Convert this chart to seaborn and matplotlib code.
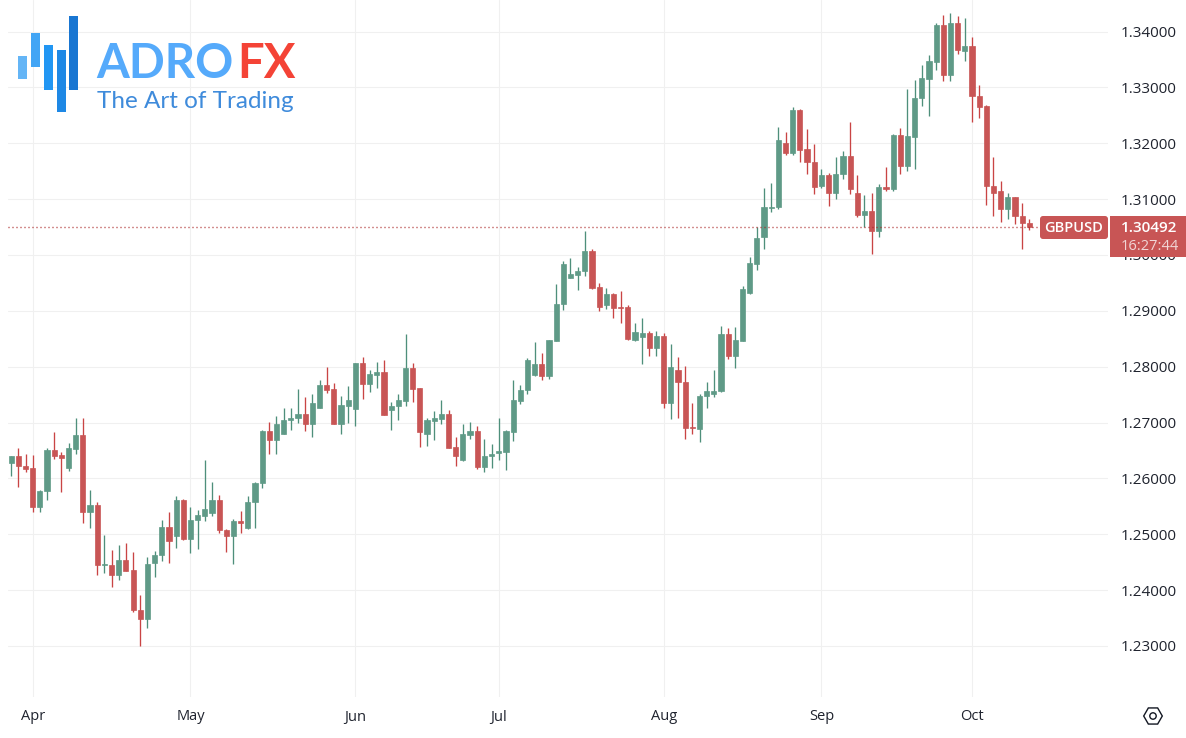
import matplotlib
matplotlib.use("Agg")
import matplotlib.pyplot as plt
import matplotlib.patches as mpatches
import matplotlib.transforms as mtransforms
import numpy as np
import pandas as pd
import seaborn as sns

# GBPUSD daily candles
start_date = "2024-03-27"
end_date = "2024-10-11"

open_prices = [
    1.26267, 1.26404, 1.26231, 1.26183, 1.25497, 1.25766, 1.26511, 1.26422, 1.26189, 1.26529,
    1.26779, 1.25390, 1.25527, 1.24448, 1.24448, 1.24263, 1.24537, 1.24358, 1.23643, 1.23476,
    1.24478, 1.24627, 1.25128, 1.24961, 1.25617, 1.24907, 1.25247, 1.25336, 1.25384, 1.25611,
    1.25074, 1.24961, 1.25229, 1.25104, 1.25575, 1.25915, 1.26849, 1.26688, 1.26801, 1.27044,
    1.27080, 1.27157, 1.26973, 1.27264, 1.27668, 1.27596, 1.26979, 1.27300, 1.27246, 1.28059,
    1.27685, 1.27846, 1.27899, 1.27223, 1.27294, 1.27389, 1.27970, 1.27614, 1.26795, 1.27027,
    1.27062, 1.27157, 1.26564, 1.26326, 1.26777, 1.26849, 1.26208, 1.26409, 1.26457, 1.26475,
    1.26837, 1.27381, 1.27578, 1.27845, 1.28042, 1.27839, 1.28464, 1.29119, 1.29595, 1.29649,
    1.29720, 1.30077, 1.29435, 1.29113, 1.29310, 1.29071, 1.29060, 1.28482, 1.28524, 1.28595,
    1.28327, 1.28542, 1.27351, 1.27935, 1.27732, 1.26917, 1.26881, 1.27470, 1.27518, 1.27560,
    1.28577, 1.28185, 1.28458, 1.29327, 1.29845, 1.30320, 1.30843, 1.30855, 1.32012, 1.31834,
    1.32599, 1.31899, 1.31656, 1.31228, 1.31424, 1.31116, 1.31442, 1.31763, 1.31110, 1.30718,
    1.30783, 1.30427, 1.31223, 1.31181, 1.32154, 1.31588, 1.32113, 1.32812, 1.33158, 1.33457,
    1.34125, 1.33224, 1.34149, 1.33654, 1.33737, 1.32854, 1.32663, 1.31230, 1.31146, 1.30818,
    1.31033, 1.30705, 1.30567,
]
high_prices = [
    1.26404, 1.26541, 1.26439, 1.26422, 1.25784, 1.26541, 1.26839, 1.26469, 1.26630, 1.27089,
    1.27078, 1.25784, 1.25575, 1.24984, 1.24722, 1.24812, 1.24835, 1.24680, 1.23911, 1.24585,
    1.24692, 1.25253, 1.25402, 1.25682, 1.25640, 1.25491, 1.25432, 1.26326, 1.25933, 1.25700,
    1.25092, 1.25271, 1.25414, 1.25682, 1.25927, 1.26863, 1.27009, 1.27110, 1.27252, 1.27264,
    1.27596, 1.27454, 1.27507, 1.27769, 1.27994, 1.27703, 1.27472, 1.27662, 1.28071, 1.28172,
    1.27947, 1.28077, 1.28125, 1.27359, 1.27513, 1.28588, 1.28065, 1.27626, 1.27086, 1.27205,
    1.27401, 1.27223, 1.26742, 1.26979, 1.27015, 1.26932, 1.26706, 1.26611, 1.27086, 1.26866,
    1.27769, 1.27667, 1.28161, 1.28447, 1.28244, 1.28475, 1.29488, 1.29893, 1.29946, 1.29786,
    1.30434, 1.30107, 1.29506, 1.29417, 1.29327, 1.29363, 1.29113, 1.28774, 1.28863, 1.28643,
    1.28631, 1.28607, 1.28399, 1.28167, 1.28018, 1.27345, 1.27518, 1.27732, 1.27935, 1.28720,
    1.28685, 1.28714, 1.29452, 1.29970, 1.30506, 1.31193, 1.31294, 1.32297, 1.32208, 1.32653,
    1.32610, 1.32261, 1.31988, 1.31543, 1.31472, 1.31745, 1.31852, 1.32380, 1.31424, 1.31074,
    1.31110, 1.31264, 1.31579, 1.32172, 1.32279, 1.32967, 1.33140, 1.33397, 1.33588, 1.34155,
    1.34293, 1.34340, 1.34275, 1.34233, 1.33899, 1.33039, 1.32693, 1.31749, 1.31331, 1.31116,
    1.31039, 1.30931, 1.30651,
]
low_prices = [
    1.26046, 1.25855, 1.26106, 1.25390, 1.25390, 1.25617, 1.26350, 1.25748, 1.26141, 1.26434,
    1.25199, 1.25104, 1.24263, 1.24299, 1.24048, 1.24174, 1.24335, 1.23607, 1.22993, 1.23321,
    1.24227, 1.24513, 1.24478, 1.24746, 1.24900, 1.24663, 1.24728, 1.25229, 1.25336, 1.25014,
    1.24674, 1.24460, 1.25014, 1.25100, 1.25104, 1.25837, 1.26433, 1.26439, 1.26795, 1.26866,
    1.26997, 1.26849, 1.26742, 1.27260, 1.27531, 1.26975, 1.26801, 1.26991, 1.26938, 1.27418,
    1.27549, 1.27614, 1.27130, 1.26866, 1.27044, 1.27300, 1.27371, 1.26564, 1.26582, 1.26688,
    1.26979, 1.26540, 1.26214, 1.26303, 1.26706, 1.26160, 1.26119, 1.26190, 1.26338, 1.26154,
    1.26677, 1.27339, 1.27518, 1.27840, 1.27768, 1.27780, 1.28460, 1.29012, 1.29590, 1.29369,
    1.29625, 1.29399, 1.28994, 1.29036, 1.28863, 1.28780, 1.28484, 1.28452, 1.28054, 1.28185,
    1.28185, 1.27262, 1.27060, 1.27078, 1.26714, 1.26798, 1.26643, 1.27256, 1.27453, 1.27554,
    1.28131, 1.27970, 1.28455, 1.29298, 1.29726, 1.30107, 1.30771, 1.30831, 1.31798, 1.31798,
    1.31656, 1.31442, 1.31092, 1.31199, 1.30872, 1.31003, 1.31365, 1.31092, 1.30676, 1.30493,
    1.30018, 1.30314, 1.31145, 1.31139, 1.31448, 1.31511, 1.31534, 1.32675, 1.32490, 1.33313,
    1.33116, 1.33116, 1.33600, 1.33469, 1.32382, 1.32460, 1.30896, 1.30699, 1.30591, 1.30645,
    1.30549, 1.30108, 1.30454,
]
close_prices = [
    1.26404, 1.26219, 1.26171, 1.25497, 1.25778, 1.26511, 1.26410, 1.26362, 1.26541, 1.26779,
    1.25390, 1.25527, 1.24442, 1.24472, 1.24263, 1.24537, 1.24346, 1.23643, 1.23476, 1.24472,
    1.24627, 1.25128, 1.24871, 1.25617, 1.24907, 1.25253, 1.25342, 1.25450, 1.25611, 1.25068,
    1.24961, 1.25235, 1.25205, 1.25575, 1.25915, 1.26845, 1.26688, 1.26973, 1.27044, 1.27086,
    1.27157, 1.26973, 1.27341, 1.27668, 1.27590, 1.26979, 1.27312, 1.27401, 1.28065, 1.27685,
    1.27863, 1.27899, 1.27133, 1.27300, 1.27401, 1.27970, 1.27596, 1.26831, 1.27044, 1.27080,
    1.27157, 1.26546, 1.26398, 1.26789, 1.26849, 1.26208, 1.26398, 1.26433, 1.26493, 1.26849,
    1.27401, 1.27589, 1.28113, 1.28042, 1.27839, 1.28470, 1.29131, 1.29845, 1.29655, 1.29720,
    1.30077, 1.29411, 1.29077, 1.29310, 1.29042, 1.29048, 1.28488, 1.28613, 1.28595, 1.28327,
    1.28542, 1.27345, 1.27988, 1.27720, 1.26899, 1.26899, 1.27476, 1.27560, 1.27560, 1.28577,
    1.28185, 1.28470, 1.29399, 1.29863, 1.30310, 1.30855, 1.30866, 1.32059, 1.31828, 1.32599,
    1.31887, 1.31656, 1.31211, 1.31424, 1.31116, 1.31442, 1.31763, 1.31187, 1.30712, 1.30783,
    1.30427, 1.31223, 1.31181, 1.32154, 1.31585, 1.32125, 1.32818, 1.33176, 1.33469, 1.34125,
    1.33224, 1.34149, 1.33672, 1.33737, 1.32848, 1.32651, 1.31230, 1.31116, 1.30818, 1.31033,
    1.30699, 1.30573, 1.30492,
]
price_ticks = [1.23, 1.24, 1.25, 1.26, 1.27, 1.28, 1.29, 1.30, 1.31, 1.32, 1.33, 1.34]
month_starts = ["2024-04-01", "2024-05-01", "2024-06-03", "2024-07-01",
                "2024-08-01", "2024-09-02", "2024-10-01"]
month_labels = ["Apr", "May", "Jun", "Jul", "Aug", "Sep", "Oct"]

GREEN = "#5F9A87"
GREEN_WICK = "#4E8F7B"
RED = "#C85555"
RED_WICK = "#C94444"
TEXT = "#1F232E"

dates = pd.bdate_range(start_date, end_date)
candles = pd.DataFrame({
    "day": np.arange(len(dates)),
    "open": open_prices,
    "high": high_prices,
    "low": low_prices,
    "close": close_prices,
})
candles["up"] = candles["close"] >= candles["open"]
candles["bottom"] = candles[["open", "close"]].min(axis=1)
candles["height"] = (candles["close"] - candles["open"]).abs()
up = candles[candles["up"]]
down = candles[~candles["up"]]

sns.set_theme(style="whitegrid", rc={"grid.color": "#F0F0F0", "grid.linewidth": 0.8})
plt.rcParams["font.family"] = ["Open Sans", "DejaVu Sans"]

fig = plt.figure(figsize=(11.86, 7.38), dpi=100)
ax = fig.add_axes([8 / 1186, 1 - 697 / 738, 1100 / 1186, 697 / 738])
ax.set_axisbelow(True)

# wicks first, the bodies sit on top
ax.vlines(up["day"], up["low"], up["high"], color=GREEN_WICK, linewidth=0.95, zorder=2)
ax.vlines(down["day"], down["low"], down["high"], color=RED_WICK, linewidth=0.95, zorder=2)

sns.barplot(data=up, x="day", y="height", bottom=up["bottom"].values, native_scale=True, orient="x",
            width=0.72, color=GREEN, saturation=1, errorbar=None, linewidth=0.5, edgecolor=GREEN,
            zorder=3, ax=ax)
sns.barplot(data=down, x="day", y="height", bottom=down["bottom"].values, native_scale=True, orient="x",
            width=0.72, color=RED, saturation=1, errorbar=None, linewidth=0.5, edgecolor=RED,
            zorder=3, ax=ax)

ax.axhline(close_prices[-1], color="#A82020", linewidth=1.0, linestyle=(0, (0.72, 2.16)), zorder=4)

ax.set_xlim(-0.445, 152.97)
ax.set_ylim(1.22087, 1.34564)
ax.set_xlabel("")
ax.set_ylabel("")

month_days = [dates.get_loc(pd.Timestamp(m)) for m in month_starts]
ax.set_xticks(month_days)
ax.set_xticklabels(month_labels, fontsize=10.5, color=TEXT)
ax.yaxis.tick_right()
ax.set_yticks(price_ticks)
ax.set_yticklabels(["%.5f" % p for p in price_ticks], fontsize=11, color=TEXT)
ax.tick_params(axis="x", length=0, pad=9)
ax.tick_params(axis="y", length=0, pad=9)
ax.grid(True, axis="both")
sns.despine(ax=ax, left=True, bottom=True, right=True, top=True)

# everything below is placed in picture pixels, y going down
px = mtransforms.Affine2D().scale(1, -1).translate(0, 738)

# logo
logo_bars = [(18, 56, 9, 23, "#64B5F6"), (31, 33, 9, 34, "#42A5F5"), (44, 45, 8.5, 45, "#2196F3"),
             (57, 50, 8.5, 62, "#1E88E5"), (69, 16, 9, 74, "#1976D2")]
for x0, y0, w, h, c in logo_bars:
    fig.add_artist(mpatches.Rectangle((x0, y0), w, h, facecolor=c, edgecolor="none", transform=px, zorder=6))
fig.text(96, 78, "ADRO", transform=px, fontsize=34, color="#55AAFB", family="Lato", weight="bold",
         ha="left", va="baseline", zorder=7)
fig.text(237, 78, "FX", transform=px, fontsize=34, color="#F44336", family="Lato", weight="bold",
         ha="left", va="baseline", zorder=7)
fig.text(97, 108, "The Art of Trading", transform=px, fontsize=17.5, color="#3F8BDB", family="Lato",
         weight="normal", ha="left", va="baseline", zorder=7)

# last price labels
fig.add_artist(mpatches.FancyBboxPatch((1040, 216), 68, 23, boxstyle="round,pad=0,rounding_size=3",
                                       linewidth=0, facecolor=RED, edgecolor="none",
                                       transform=px, zorder=6))
fig.add_artist(mpatches.Rectangle((1110, 216), 76, 41, facecolor=RED, edgecolor="none", transform=px, zorder=6))
fig.text(1074, 228, "GBPUSD", transform=px, fontsize=10.5, color="white", weight="semibold",
         ha="center", va="center", zorder=7)
fig.text(1121, 228, "1.30492", transform=px, fontsize=11, color="white", weight="semibold",
         ha="left", va="center", zorder=7)
fig.text(1121, 247, "16:27:44", transform=px, fontsize=10.5, color="#F1D6D6", ha="left", va="center", zorder=7)

# chart settings icon
fig.add_artist(mpatches.RegularPolygon((1153, 716), 6, radius=9.3, orientation=np.pi / 6, facecolor="white",
                                       edgecolor="#131722", linewidth=1.0, transform=px, zorder=6))
fig.add_artist(mpatches.Circle((1153, 716), 3.2, facecolor="white", edgecolor="#131722", linewidth=1.0,
                               transform=px, zorder=7))

plt.savefig("out.png", dpi=100)
